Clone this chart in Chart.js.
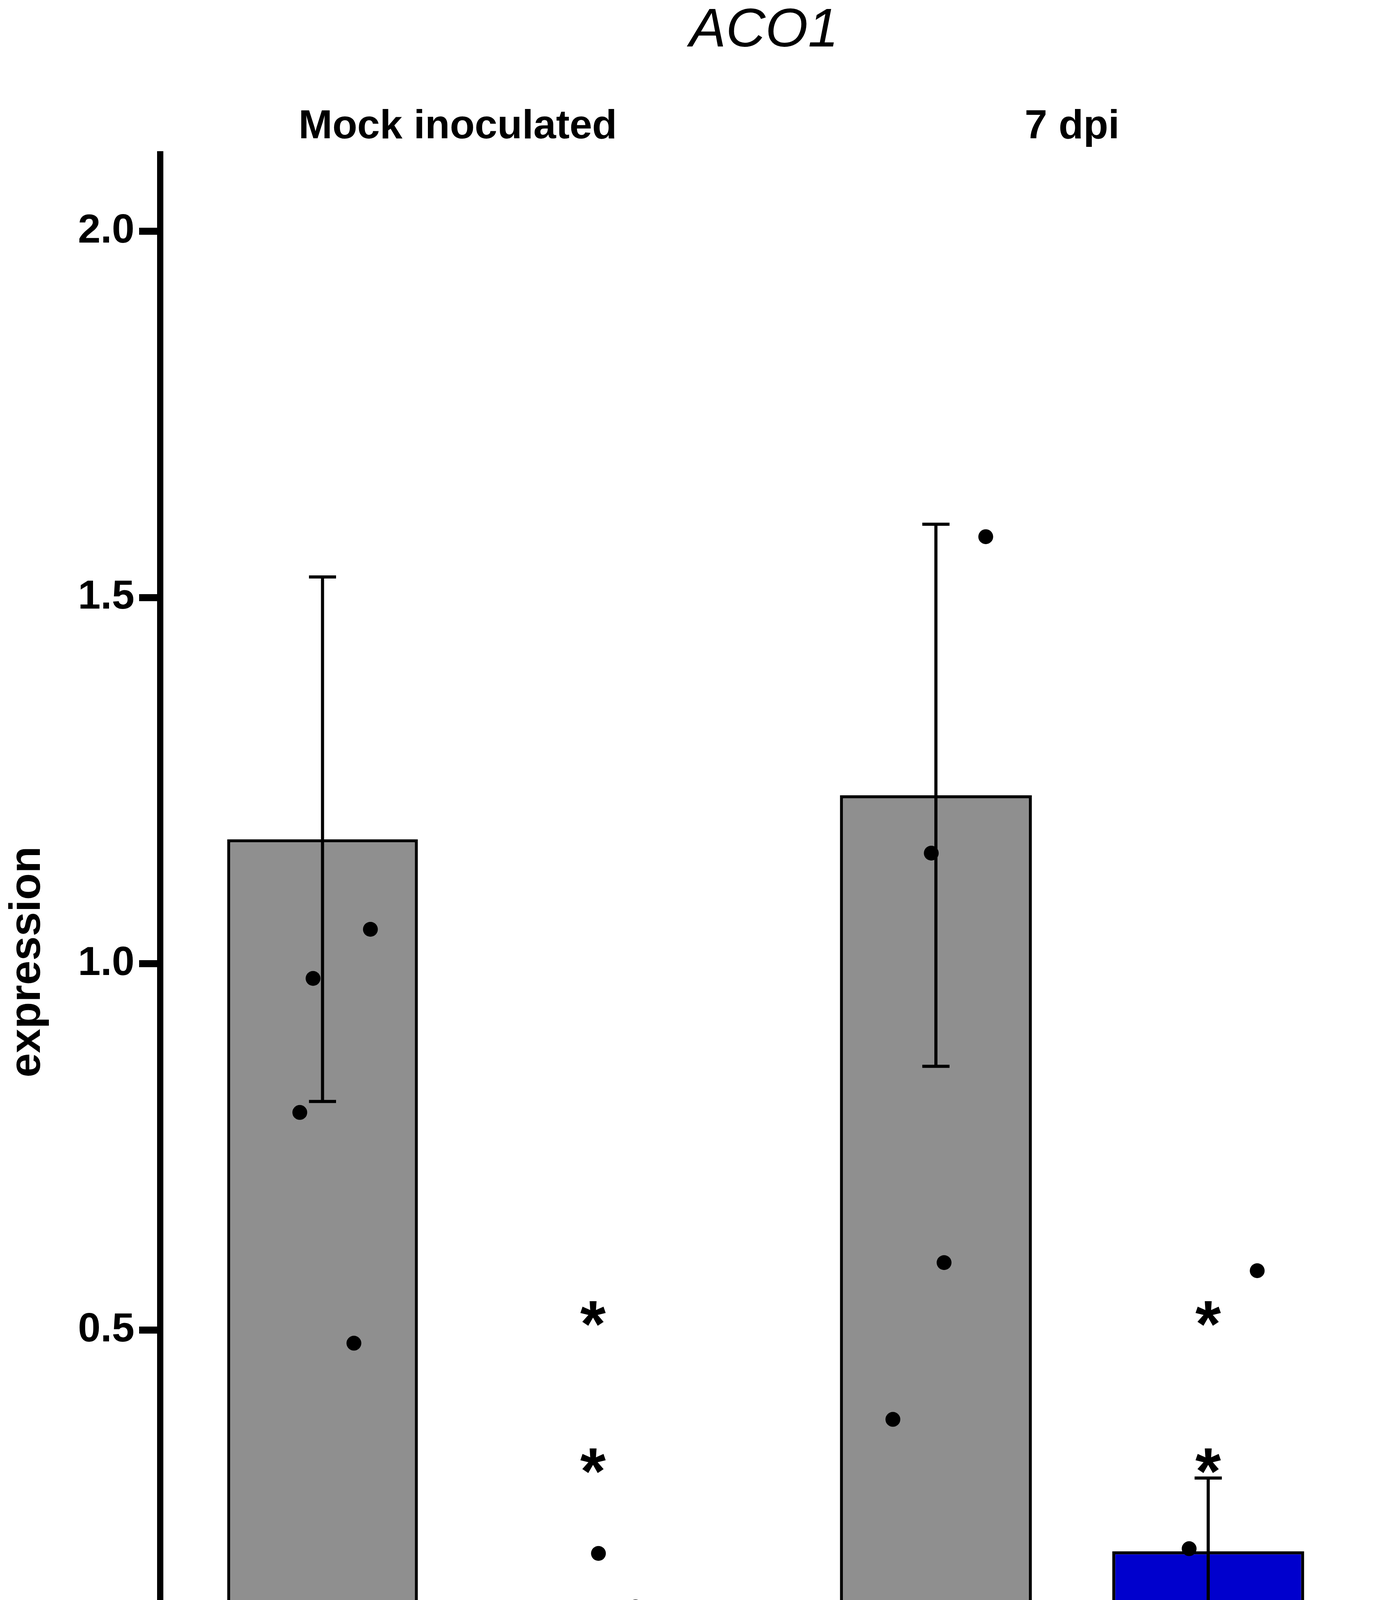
<!DOCTYPE html>
<html>
<head>
<meta charset="utf-8">
<script src="https://cdn.jsdelivr.net/npm/chart.js@4/dist/chart.umd.min.js"></script>
<style>
html, body { margin: 0; padding: 0; background: #ffffff; }
#wrap { position: relative; width: 3529px; height: 4730px; background: #ffffff; }
#wrap canvas { position: absolute; left: 0; top: 0; }
</style>
</head>
<body>
<div id="wrap">
  <canvas id="c1" width="3529" height="4730"></canvas>
  <canvas id="c2" width="3529" height="4730"></canvas>
</div>
<script>
// ---------- data ----------
const chartTitle = 'ACO1';
const panels = ['Mock inoculated', '7 dpi'];
const categories = ['cv.MM', 'RNAi::SlWAT1_1'];
const barColors = ['#8f8f8f', '#0000cd'];
const yTicks = [0, 0.5, 1.0, 1.5, 2.0];
const yLabel = 'expression';
const yMin = -0.1;
const yMax = 2.105;

const meanMock = [1.170, 0.092];
const seMock = [0.358, 0.030];
const meanDpi = [1.230, 0.198];
const seDpi = [0.370, 0.100];

// replicate points (horizontal jitter within the group, value)
const mockMMJitter = [0.177, -0.035, -0.084, 0.116];
const mockMMValues = [1.047, 0.980, 0.797, 0.482];
const mockRNAiJitter = [0.020, 0.157, 0.015, -0.017, -0.181];
const mockRNAiValues = [0.195, 0.122, 0.064, 0.057, 0.024];
const dpiMMJitter = [0.183, -0.017, 0.030, -0.158];
const dpiMMValues = [1.583, 1.151, 0.592, 0.378];
const dpiRNAiJitter = [0.180, -0.070, -0.184, -0.103, 0.158];
const dpiRNAiValues = [0.581, 0.2015, 0.092, 0.077, 0.035];

// significance marks above the RNAi bar
const sigMarks = ['*', '*'];
const sigMockY = [0.5225, 0.3215];
const sigDpiY = [0.5225, 0.3215];

// ---------- drawing ----------
const FONT = "'Liberation Sans', Arial, Helvetica, sans-serif";
Chart.defaults.color = '#000000';
Chart.defaults.font.family = FONT;

function pointsFor(jitters, values) {
  const out = [];
  jitters.forEach((jit, g) => {
    values[g].forEach((v, i) => out.push({ x: g + jit[i], y: v }));
  });
  return out;
}

function makePanel(canvasId, panelIdx, means, ses, jitters, values, sigY, isFirst) {
  const panelPlugin = {
    id: 'panelDecor' + panelIdx,
    afterDatasetDraw(chart, args) {
      if (args.index !== 0) return;
      const xs = chart.scales.x, ys = chart.scales.y, ctx = chart.ctx;
      ctx.save();
      ctx.strokeStyle = '#000000';
      ctx.lineWidth = 8;
      ctx.lineCap = 'butt';
      means.forEach((m, i) => {
        const x = xs.getPixelForValue(i);
        const yHi = ys.getPixelForValue(m + ses[i]);
        const yLo = ys.getPixelForValue(m - ses[i]);
        const xl = xs.getPixelForValue(i - 0.05);
        const xr = xs.getPixelForValue(i + 0.05);
        ctx.beginPath();
        ctx.moveTo(x, yHi); ctx.lineTo(x, yLo);
        ctx.moveTo(xl, yHi); ctx.lineTo(xr, yHi);
        ctx.moveTo(xl, yLo); ctx.lineTo(xr, yLo);
        ctx.stroke();
      });
      ctx.restore();
    },
    afterDatasetsDraw(chart) {
      const xs = chart.scales.x, ys = chart.scales.y, ctx = chart.ctx;
      const area = chart.chartArea;
      ctx.save();
      ctx.fillStyle = '#000000';
      ctx.font = 'bold 168px ' + FONT;
      ctx.textAlign = 'left';
      ctx.textBaseline = 'alphabetic';
      sigY.forEach((v, i) => {
        const m = ctx.measureText(sigMarks[i]);
        const cx = xs.getPixelForValue(1);
        const cy = ys.getPixelForValue(v);
        const gx = cx - (m.actualBoundingBoxRight - m.actualBoundingBoxLeft) / 2;
        const gy = cy + (m.actualBoundingBoxAscent - m.actualBoundingBoxDescent) / 2;
        ctx.fillText(sigMarks[i], gx, gy);
      });
      ctx.font = 'bold 104px ' + FONT;
      ctx.textAlign = 'center';
      ctx.fillText(panels[panelIdx], (area.left + area.right) / 2, area.top - 41);
      if (isFirst) {
        ctx.font = 'italic 140px ' + FONT;
        ctx.fillText(chartTitle, 1955, 119);
      }
      ctx.restore();
    }
  };

  return new Chart(document.getElementById(canvasId), {
    type: 'bar',
    data: {
      datasets: [
        {
          type: 'bar',
          data: means.map((m, i) => ({ x: i, y: m })),
          backgroundColor: barColors,
          borderColor: '#000000',
          borderWidth: 8,
          borderSkipped: false,
          barPercentage: 0.705,
          categoryPercentage: 1.0,
          order: 2
        },
        {
          type: 'scatter',
          data: pointsFor(jitters, values),
          backgroundColor: '#000000',
          borderWidth: 0,
          pointRadius: 19,
          pointHoverRadius: 19,
          order: 1
        }
      ]
    },
    options: {
      responsive: false,
      animation: false,
      devicePixelRatio: 1,
      events: [],
      layout: {
        padding: isFirst
          ? { left: 0, top: 395, right: 1596, bottom: 0 }
          : { left: 1977, top: 395, right: 18, bottom: 0 }
      },
      plugins: { legend: { display: false }, tooltip: { enabled: false }, title: { display: false } },
      scales: {
        x: {
          type: 'linear',
          min: -0.6,
          max: 1.6,
          offset: false,
          afterBuildTicks: (s) => { s.ticks = categories.map((c, i) => ({ value: i })); },
          afterFit: (s) => { s.height = 200; },
          ticks: {
            callback: (v) => categories[Math.round(v)],
            font: { family: FONT, size: 104, weight: 'bold' },
            color: '#000000',
            padding: 7,
            maxRotation: 0,
            autoSkip: false
          },
          grid: {
            display: true, drawOnChartArea: false, drawTicks: true, offset: false,
            tickLength: 55, tickWidth: 17, tickColor: '#000000', lineWidth: 17, color: '#000000'
          },
          border: { display: true, color: '#000000', width: 18 }
        },
        y: {
          type: 'linear',
          display: isFirst,
          min: yMin,
          max: yMax,
          afterBuildTicks: (s) => { s.ticks = yTicks.map(v => ({ value: v })); },
          afterFit: (s) => { s.width = isFirst ? 410 : 0; },
          ticks: {
            callback: (v) => Number(v).toFixed(1),
            font: { family: FONT, size: 104, weight: 'bold' },
            color: '#000000',
            padding: 12
          },
          grid: {
            display: true, drawOnChartArea: false, drawTicks: true,
            tickLength: 54, tickWidth: 18, tickColor: '#000000', lineWidth: 18, color: '#000000'
          },
          border: { display: true, color: '#000000', width: 16 },
          title: {
            display: true,
            text: yLabel,
            font: { family: FONT, size: 112, weight: 'bold' },
            color: '#000000',
            padding: { top: 4, bottom: 0 }
          }
        }
      }
    },
    plugins: [panelPlugin]
  });
}

makePanel('c1', 0, meanMock, seMock, [mockMMJitter, mockRNAiJitter], [mockMMValues, mockRNAiValues], sigMockY, true);
makePanel('c2', 1, meanDpi, seDpi, [dpiMMJitter, dpiRNAiJitter], [dpiMMValues, dpiRNAiValues], sigDpiY, false);
</script>
</body>
</html>
